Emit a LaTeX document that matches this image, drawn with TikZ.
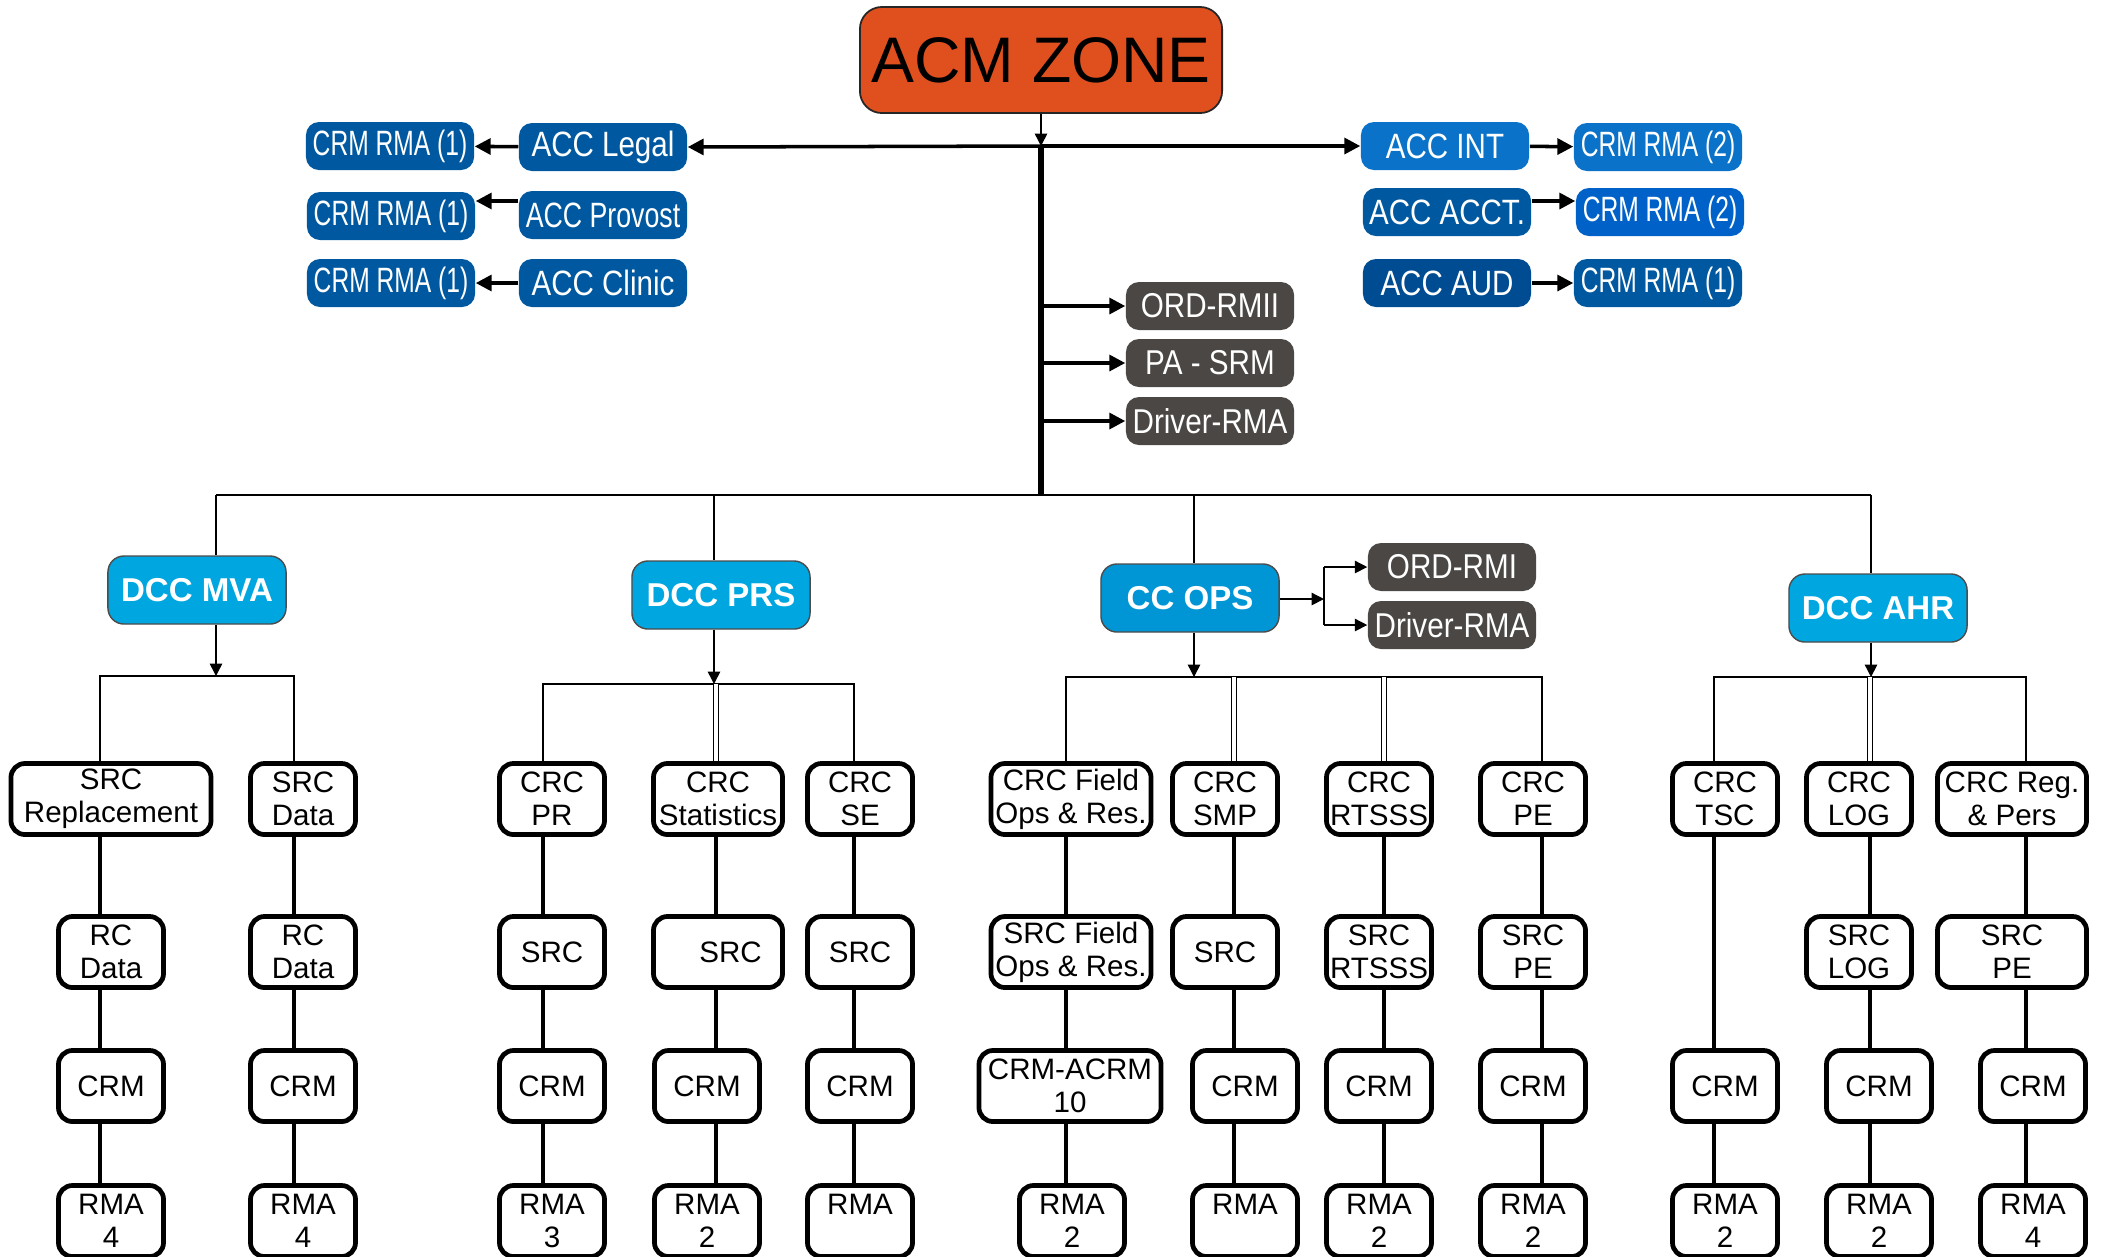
\documentclass[tikz,border=0pt]{standalone}
\usepackage{fontspec}
\setmainfont{Liberation Sans}
\newfontfamily\accfont[FakeStretch=0.84]{Liberation Sans}
\newfontfamily\provfont[FakeStretch=0.76]{Liberation Sans}
\newfontfamily\rmafont[FakeStretch=0.7]{Liberation Sans}
\newfontfamily\greyfont[FakeStretch=0.86]{Liberation Sans}
\usetikzlibrary{arrows.meta}
\definecolor{zoneorange}{HTML}{E0501F}
\definecolor{accblue}{HTML}{0059A0}
\definecolor{intblue}{HTML}{0A72C8}
\definecolor{acctblue}{HTML}{0062C8}
\definecolor{audblue}{HTML}{004C92}
\definecolor{dcccyan}{HTML}{00A6E0}
\definecolor{opscyan}{HTML}{0096D6}
\definecolor{boxgrey}{HTML}{4A4744}

\begin{document}
\begin{tikzpicture}[x=0.01cm, y=-0.01cm,
  zone/.style={draw=black!85, line width=0.5pt, fill=zoneorange, rounded corners=0.22cm, minimum width=3.62cm, minimum height=1.06cm, inner sep=0pt, font=\fontsize{18.3}{21}\selectfont},
  accbox/.style={fill=accblue, text=white, rounded corners=0.13cm, minimum width=1.68cm, minimum height=0.48cm, inner sep=0pt, font=\accfont\fontsize{10}{12}\selectfont},
  rmabox/.style={accbox, font=\rmafont\fontsize{10}{12}\selectfont},
  greybox/.style={accbox, fill=boxgrey, font=\greyfont\fontsize{9.8}{12}\selectfont},
  dccbox/.style={draw=black!70, line width=0.4pt, fill=dcccyan, text=white, rounded corners=0.16cm, minimum width=1.78cm, minimum height=0.68cm, inner sep=0pt, font=\bfseries\fontsize{9.4}{11}\selectfont},
  unit/.style={draw, line width=1.35pt, fill=white, rounded corners=0.14cm, align=center, minimum width=1.05cm, minimum height=0.71cm, inner sep=1pt, font=\fontsize{8.4}{9.3}\selectfont},
  feed/.style={line width=1pt, -{Triangle[length=4.5pt,width=4.5pt]}},
  thinfeed/.style={line width=0.4pt, -{Triangle[length=3.5pt,width=3.5pt]}},
  trunk/.style={line width=1.6pt},
  spine/.style={line width=1.2pt},
  tie/.style={line width=0.45pt},
  twin/.style={double, double distance=0.9pt, line width=0.35pt}]
  \useasboundingbox (0,0) rectangle (2103,1256);

  \node[zone] (acm) at (1041,60) {ACM ZONE};

  \node[accbox] (legal) at (603,147) {ACC Legal};
  \node[accbox, font=\provfont\fontsize{10}{12}\selectfont] (provost) at (603,215) {ACC Provost};
  \node[accbox] (clinic) at (603,283) {ACC Clinic};
  \node[rmabox] (rmaL1) at (390,146) {CRM RMA (1)};
  \node[rmabox] (rmaL2) at (391,216) {CRM RMA (1)};
  \node[rmabox] (rmaL3) at (391,283) {CRM RMA (1)};
  \node[accbox, fill=intblue] (int) at (1445,146) {ACC INT};
  \node[accbox] (acct) at (1447,212) {ACC ACCT.};
  \node[accbox, fill=audblue] (aud) at (1447,283) {ACC AUD};
  \node[rmabox, fill=intblue] (rmaR1) at (1658,147) {CRM RMA (2)};
  \node[rmabox, fill=acctblue] (rmaR2) at (1660,212) {CRM RMA (2)};
  \node[rmabox] (rmaR3) at (1658,283) {CRM RMA (1)};

  \node[greybox] (ordrmii) at (1210,306) {ORD-RMII};
  \node[greybox] (pasrm) at (1210,363) {PA - SRM};
  \node[greybox] (driver) at (1210,421) {Driver-RMA};

  \node[dccbox] (mva) at (197,590) {DCC MVA};
  \node[dccbox] (prs) at (721,595) {DCC PRS};
  \node[dccbox, fill=opscyan] (ops) at (1190,598) {CC OPS};
  \node[dccbox] (ahr) at (1878,608) {DCC AHR};
  \node[greybox] (ordrmi) at (1452,567) {ORD-RMI};
  \node[greybox] (driverops) at (1452,625) {Driver-RMA};

  \coordinate (hub) at (1041,146);
  \coordinate (split) at (1041,495);
  \coordinate (mvatap) at (216,495);
  \coordinate (prstap) at (714,495);
  \coordinate (opstap) at (1194,495);
  \coordinate (ahrtap) at (1871,495);
  \coordinate (mvabar) at (216,676);
  \coordinate (prsbar) at (714,684);
  \coordinate (opsbar) at (1194,677);
  \coordinate (ahrbar) at (1871,677);
  \coordinate (opsfork) at (1324,599);

  \coordinate (mvaA) at (100,0);
  \coordinate (mvaB) at (294,0);
  \coordinate (prsA) at (543,0);
  \coordinate (prsB) at (716,0);
  \coordinate (prsC) at (854,0);
  \coordinate (opsA) at (1066,0);
  \coordinate (opsB) at (1234,0);
  \coordinate (opsC) at (1384,0);
  \coordinate (opsD) at (1542,0);
  \coordinate (ahrA) at (1714,0);
  \coordinate (ahrB) at (1870,0);
  \coordinate (ahrC) at (2026,0);

  \node[unit, minimum width=2cm] (mvaA1) at (111,799) {SRC\\Replacement};
  \node[unit] (mvaA2) at (111,952) {RC\\Data};
  \node[unit] (mvaA3) at (111,1086) {CRM};
  \node[unit] (mvaA4) at (111,1221) {RMA\\4};
  \node[unit] (mvaB1) at (303,799) {SRC\\Data};
  \node[unit] (mvaB2) at (303,952) {RC\\Data};
  \node[unit] (mvaB3) at (303,1086) {CRM};
  \node[unit] (mvaB4) at (303,1221) {RMA\\4};

  \node[unit] (prsA1) at (552,799) {CRC\\PR};
  \node[unit] (prsA2) at (552,952) {SRC};
  \node[unit] (prsA3) at (552,1086) {CRM};
  \node[unit] (prsA4) at (552,1221) {RMA\\3};
  \node[unit, minimum width=1.29cm] (prsB1) at (718,799) {CRC\\Statistics};
  \node[unit, minimum width=1.29cm] (prsB2) at (718,952) {\hspace{0.25cm}SRC};
  \node[unit] (prsB3) at (707,1086) {CRM};
  \node[unit] (prsB4) at (707,1221) {RMA\\2};
  \node[unit] (prsC1) at (860,799) {CRC\\SE};
  \node[unit] (prsC2) at (860,952) {SRC};
  \node[unit] (prsC3) at (860,1086) {CRM};
  \node[unit] (prsC4) at (860,1221) {RMA\\\phantom{4}};

  \node[unit, minimum width=1.6cm] (opsA1) at (1071,799) {CRC Field\\Ops \& Res.};
  \node[unit, minimum width=1.6cm] (opsA2) at (1071,952) {SRC Field\\Ops \& Res.};
  \node[unit, minimum width=1.82cm] (opsA3) at (1070,1086) {CRM-ACRM\\10};
  \node[unit] (opsA4) at (1072,1221) {RMA\\2};
  \node[unit] (opsB1) at (1225,799) {CRC\\SMP};
  \node[unit] (opsB2) at (1225,952) {SRC};
  \node[unit] (opsB3) at (1245,1086) {CRM};
  \node[unit] (opsB4) at (1245,1221) {RMA\\\phantom{4}};
  \node[unit] (opsC1) at (1379,799) {CRC\\RTSSS};
  \node[unit] (opsC2) at (1379,952) {SRC\\RTSSS};
  \node[unit] (opsC3) at (1379,1086) {CRM};
  \node[unit] (opsC4) at (1379,1221) {RMA\\2};
  \node[unit] (opsD1) at (1533,799) {CRC\\PE};
  \node[unit] (opsD2) at (1533,952) {SRC\\PE};
  \node[unit] (opsD3) at (1533,1086) {CRM};
  \node[unit] (opsD4) at (1533,1221) {RMA\\2};

  \node[unit] (ahrA1) at (1725,799) {CRC\\TSC};
  \node[unit] (ahrA3) at (1725,1086) {CRM};
  \node[unit] (ahrA4) at (1725,1221) {RMA\\2};
  \node[unit] (ahrB1) at (1859,799) {CRC\\LOG};
  \node[unit] (ahrB2) at (1859,952) {SRC\\LOG};
  \node[unit] (ahrB3) at (1879,1086) {CRM};
  \node[unit] (ahrB4) at (1879,1221) {RMA\\2};
  \node[unit, minimum width=1.49cm] (ahrC1) at (2012,799) {CRC Reg.\\\& Pers};
  \node[unit, minimum width=1.49cm] (ahrC2) at (2012,952) {SRC\\PE};
  \node[unit] (ahrC3) at (2033,1086) {CRM};
  \node[unit] (ahrC4) at (2033,1221) {RMA\\4};

  \draw[thinfeed] (acm.south) -- (hub);
  \draw[feed] (hub) -- (legal.east);
  \draw[feed] (hub) -- (int.west);
  \draw[feed] (legal) -- (rmaL1);
  \draw[feed] ([yshift=0.14cm]provost.west) -- ([yshift=0.15cm]rmaL2.east);
  \draw[feed] (clinic) -- (rmaL3);
  \draw[feed] (int) -- (rmaR1);
  \draw[feed] ([yshift=0.11cm]acct.east) -- ([yshift=0.11cm]rmaR2.west);
  \draw[feed] (aud) -- (rmaR3);
  \draw[trunk] (hub) -- (split);
  \draw[feed] (hub |- ordrmii) -- (ordrmii);
  \draw[feed] (hub |- pasrm) -- (pasrm);
  \draw[feed] (hub |- driver) -- (driver);

  \draw[tie] (mvatap) -- (ahrtap);
  \draw[tie] (mvatap) -- (mvatap |- mva.north);
  \draw[tie] (prstap) -- (prstap |- prs.north);
  \draw[tie] (opstap) -- (opstap |- ops.north);
  \draw[tie] (ahrtap) -- (ahrtap |- ahr.north);

  \draw[thinfeed] (ops.east |- opsfork) -- (opsfork);
  \draw[tie] (opsfork |- ordrmi) -- (opsfork |- driverops);
  \draw[thinfeed] (opsfork |- ordrmi) -- (ordrmi);
  \draw[thinfeed] (opsfork |- driverops) -- (driverops);

  \draw[thinfeed] (mvabar |- mva.south) -- (mvabar);
  \draw[thinfeed] (prsbar |- prs.south) -- (prsbar);
  \draw[thinfeed] (opsbar |- ops.south) -- (opsbar);
  \draw[thinfeed] (ahrbar |- ahr.south) -- (ahrbar);

  \draw[tie] (mvaA |- mvaA1.north) |- (mvabar) -| (mvaB |- mvaB1.north);
  \draw[tie] (prsA |- prsA1.north) |- (prsbar) -| (prsC |- prsC1.north);
  \draw[twin] (prsB |- prsbar) -- (prsB |- prsB1.north);
  \draw[tie] (opsA |- opsA1.north) |- (opsbar) -| (opsD |- opsD1.north);
  \draw[twin] (opsB |- opsbar) -- (opsB |- opsB1.north);
  \draw[twin] (opsC |- opsbar) -- (opsC |- opsC1.north);
  \draw[tie] (ahrA |- ahrA1.north) |- (ahrbar) -| (ahrC |- ahrC1.north);
  \draw[twin] (ahrB |- ahrbar) -- (ahrB |- ahrB1.north);

  \draw[spine] (mvaA |- mvaA1.south) -- (mvaA |- mvaA2.north) (mvaA |- mvaA2.south) -- (mvaA |- mvaA3.north) (mvaA |- mvaA3.south) -- (mvaA |- mvaA4.north);
  \draw[spine] (mvaB |- mvaB1.south) -- (mvaB |- mvaB2.north) (mvaB |- mvaB2.south) -- (mvaB |- mvaB3.north) (mvaB |- mvaB3.south) -- (mvaB |- mvaB4.north);
  \draw[spine] (prsA |- prsA1.south) -- (prsA |- prsA2.north) (prsA |- prsA2.south) -- (prsA |- prsA3.north) (prsA |- prsA3.south) -- (prsA |- prsA4.north);
  \draw[spine] (prsB |- prsB1.south) -- (prsB |- prsB2.north) (prsB |- prsB2.south) -- (prsB |- prsB3.north) (prsB |- prsB3.south) -- (prsB |- prsB4.north);
  \draw[spine] (prsC |- prsC1.south) -- (prsC |- prsC2.north) (prsC |- prsC2.south) -- (prsC |- prsC3.north) (prsC |- prsC3.south) -- (prsC |- prsC4.north);
  \draw[spine] (opsA |- opsA1.south) -- (opsA |- opsA2.north) (opsA |- opsA2.south) -- (opsA |- opsA3.north) (opsA |- opsA3.south) -- (opsA |- opsA4.north);
  \draw[spine] (opsB |- opsB1.south) -- (opsB |- opsB2.north) (opsB |- opsB2.south) -- (opsB |- opsB3.north) (opsB |- opsB3.south) -- (opsB |- opsB4.north);
  \draw[spine] (opsC |- opsC1.south) -- (opsC |- opsC2.north) (opsC |- opsC2.south) -- (opsC |- opsC3.north) (opsC |- opsC3.south) -- (opsC |- opsC4.north);
  \draw[spine] (opsD |- opsD1.south) -- (opsD |- opsD2.north) (opsD |- opsD2.south) -- (opsD |- opsD3.north) (opsD |- opsD3.south) -- (opsD |- opsD4.north);
  \draw[spine] (ahrA |- ahrA1.south) -- (ahrA |- ahrA3.north) (ahrA |- ahrA3.south) -- (ahrA |- ahrA4.north);
  \draw[spine] (ahrB |- ahrB1.south) -- (ahrB |- ahrB2.north) (ahrB |- ahrB2.south) -- (ahrB |- ahrB3.north) (ahrB |- ahrB3.south) -- (ahrB |- ahrB4.north);
  \draw[spine] (ahrC |- ahrC1.south) -- (ahrC |- ahrC2.north) (ahrC |- ahrC2.south) -- (ahrC |- ahrC3.north) (ahrC |- ahrC3.south) -- (ahrC |- ahrC4.north);
\end{tikzpicture}
\end{document}
